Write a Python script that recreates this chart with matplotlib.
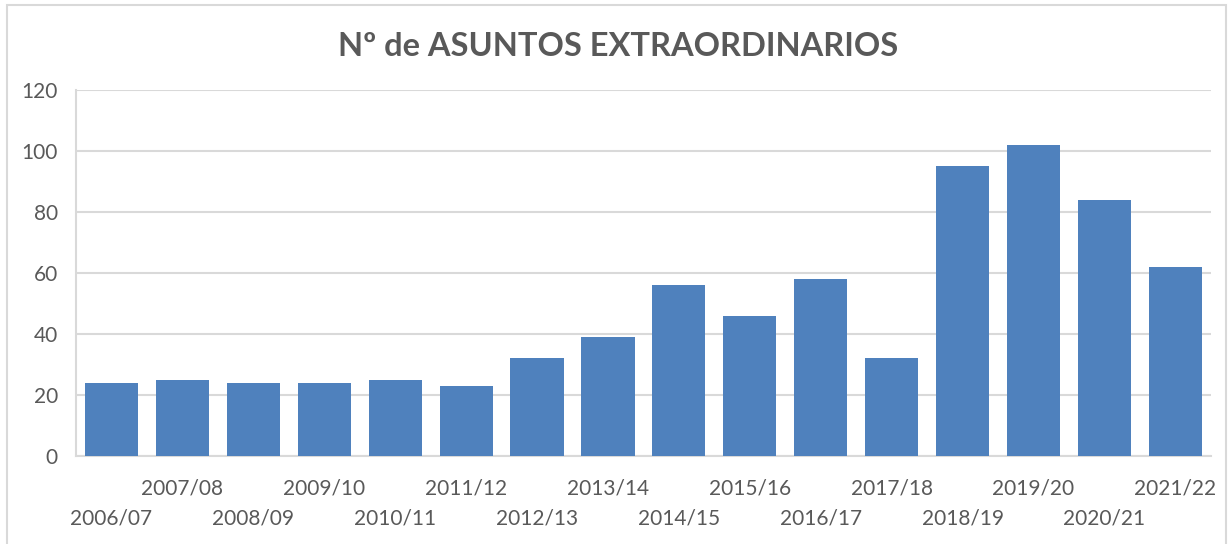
import matplotlib
matplotlib.use("Agg")
import matplotlib.pyplot as plt
from matplotlib.patches import Rectangle

# ── Data ──────────────────────────────────────────────────────────────────────
seasons = ["2006/07", "2007/08", "2008/09", "2009/10", "2010/11", "2011/12",
           "2012/13", "2013/14", "2014/15", "2015/16", "2016/17", "2017/18",
           "2018/19", "2019/20", "2020/21", "2021/22"]
asuntos = [24, 25, 24, 24, 25, 23, 32, 39, 56, 46, 58, 32, 95, 102, 84, 62]
y_ticks = [0, 20, 40, 60, 80, 100, 120]

BAR_COLOR  = "#4f81bd"
TEXT_COLOR = "#595959"
GRID_COLOR = "#d9d9d9"

plt.rcParams["font.family"] = ["Lato", "DejaVu Sans"]

fig = plt.figure(figsize=(12.28, 5.44), dpi=100)
ax = fig.add_axes([0.0619, 0.1618, 0.9241, 0.6728])

x = range(len(seasons))
ax.bar(x, asuntos, width=0.75, color=BAR_COLOR, zorder=3)

ax.set_xlim(-0.5, len(seasons) - 0.5)
ax.set_ylim(0, 120)
ax.set_yticks(y_ticks)
ax.yaxis.grid(True, color=GRID_COLOR, linewidth=1.5, zorder=0)
ax.tick_params(axis="y", length=0, pad=13, labelsize=15, labelcolor=TEXT_COLOR)

# staggered category labels: odd seasons on the upper row, even on the lower
ax.set_xticks(list(x))
ax.set_xticklabels(seasons)
ax.tick_params(axis="x", length=0, labelsize=15, labelcolor=TEXT_COLOR)
for i, tick in enumerate(ax.xaxis.get_major_ticks()):
    tick.set_pad(16 if i % 2 else 38)

for side in ("top", "right"):
    ax.spines[side].set_visible(False)
for side in ("left", "bottom"):
    ax.spines[side].set_color(GRID_COLOR)
    ax.spines[side].set_linewidth(1.5)

fig.text(0.503, 0.915, "Nº de ASUNTOS EXTRAORDINARIOS", ha="center", va="center",
         fontsize=23.5, fontweight="bold", color=TEXT_COLOR)

# light chart frame
fig.patches.append(Rectangle((7 / 1228, -0.01), 1219 / 1228, 1 - 5 / 544 + 0.01,
                             transform=fig.transFigure, fill=False,
                             edgecolor=GRID_COLOR, linewidth=1.5))

fig.savefig("out.png", dpi=100, facecolor="white")
